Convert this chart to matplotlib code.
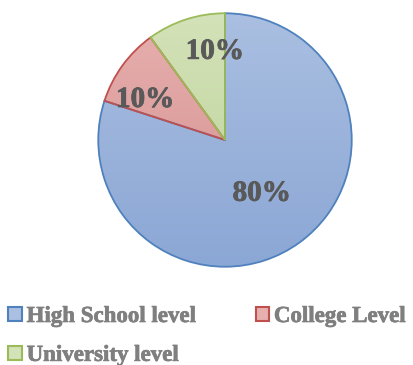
import matplotlib
matplotlib.use("Agg")
import matplotlib.pyplot as plt
import matplotlib.patheffects as pe
import numpy as np
from matplotlib.patches import Patch

plt.rcParams["font.family"] = ["Liberation Serif", "DejaVu Serif"]
plt.rcParams["font.weight"] = "bold"

# data
levels = ["High School level", "College Level", "University level"]
shares = [80, 10, 10]
edge_colors = ["#4F81BD", "#C0504D", "#9BBB59"]
# gradient top / bottom colours per slice
top_colors = ["#AABFE1", "#E6B0AF", "#D3E2B8"]
bottom_colors = ["#8BA7D5", "#D48E8C", "#BDD197"]
label_pos = [(0.29, -0.42), (-0.63, 0.32), (-0.08, 0.70)]

W, H = 414, 365
fig = plt.figure(figsize=(W / 100, H / 100), dpi=100)
cx, cy, r = 225, H - 140, 128
ax = fig.add_axes([(cx - r) / W, (cy - r) / H, 2 * r / W, 2 * r / H])

wedges, _ = ax.pie(shares, startangle=90, counterclock=False, radius=1,
                   colors=["none"] * 3,
                   wedgeprops=dict(linewidth=1.3))
for w, ec in zip(wedges, edge_colors):
    w.set_edgecolor(ec)
    w.set_zorder(3)

# vertical gradient fills clipped to each wedge
for w, c1, c2 in zip(wedges, top_colors, bottom_colors):
    a = np.array(matplotlib.colors.to_rgb(c1))
    b = np.array(matplotlib.colors.to_rgb(c2))
    t = np.linspace(0, 1, 256)[:, None]
    img = (a * (1 - t) + b * t)[:, None, :]
    im = ax.imshow(img, extent=[-1, 1, -1, 1], origin="upper", aspect="auto", zorder=1)
    im.set_clip_path(w)

bold_lbl = [pe.withStroke(linewidth=0.6, foreground="#595959")]
for (x, y), v in zip(label_pos, shares):
    ax.text(x, y, f"{v}%", ha="center", va="center", fontsize=21,
            fontweight="bold", color="#595959", zorder=4, path_effects=bold_lbl)

ax.set_xlim(-1.01, 1.01)
ax.set_ylim(-1.01, 1.01)
ax.set_aspect("equal")
ax.axis("off")

# legend (column order: HS, University | College)
handles = [Patch(facecolor=tc, edgecolor=ec, linewidth=1.5)
           for tc, ec in zip(top_colors, edge_colors)]
order = [0, 2, 1]
leg = fig.legend([handles[i] for i in order], [levels[i] for i in order],
                 ncol=2, loc="upper left", bbox_to_anchor=(0.02, 1 - 306 / H),
                 frameon=False, fontsize=16.5, handlelength=0.6, handleheight=0.6,
                 handletextpad=0.2, columnspacing=2.6, labelspacing=0.78,
                 borderaxespad=0, borderpad=0.0)
bold_leg = [pe.withStroke(linewidth=0.5, foreground="#7F7F7F")]
for t in leg.get_texts():
    t.set_color("#7F7F7F")
    t.set_fontweight("bold")
    t.set_path_effects(bold_leg)

fig.savefig("out.png", dpi=100)
